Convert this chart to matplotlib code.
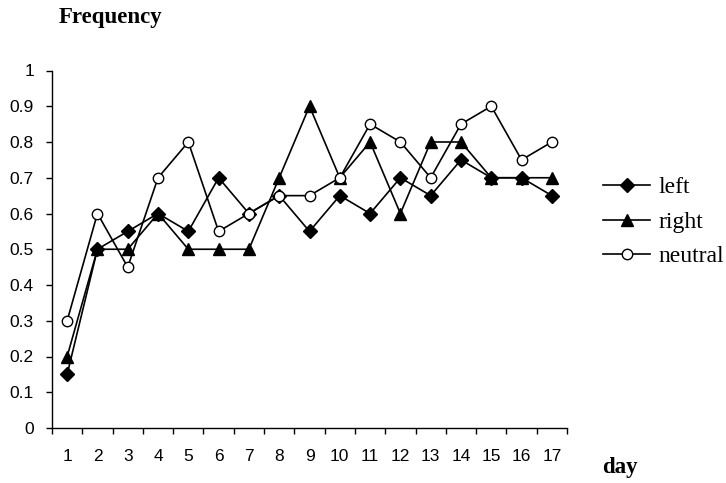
import matplotlib
matplotlib.use("Agg")
import matplotlib.pyplot as plt
import numpy as np

days = list(range(1, 18))
left = [0.15, 0.5, 0.55, 0.6, 0.55, 0.7, 0.6, 0.65, 0.55, 0.65, 0.6, 0.7, 0.65, 0.75, 0.7, 0.7, 0.65]
right = [0.2, 0.5, 0.5, 0.6, 0.5, 0.5, 0.5, 0.7, 0.9, 0.7, 0.8, 0.6, 0.8, 0.8, 0.7, 0.7, 0.7]
neutral = [0.3, 0.6, 0.45, 0.7, 0.8, 0.55, 0.6, 0.65, 0.65, 0.7, 0.85, 0.8, 0.7, 0.85, 0.9, 0.75, 0.8]
yticks = [0, 0.1, 0.2, 0.3, 0.4, 0.5, 0.6, 0.7, 0.8, 0.9, 1]
ytick_labels = ["0", "0.1", "0.2", "0.3", "0.4", "0.5", "0.6", "0.7", "0.8", "0.9", "1"]

W, H = 726, 483
fig = plt.figure(figsize=(W / 100, H / 100), dpi=100)
ax = fig.add_axes([52 / W, 1 - 428 / H, (567 - 52) / W, (428 - 70.5) / H])

lw = 1.2
h1, = ax.plot(days, left, color="black", lw=lw, marker="D", ms=7, mfc="black", mec="black", label="left")
h2, = ax.plot(days, right, color="black", lw=lw, marker="^", ms=8.5, mfc="black", mec="black", label="right")
h3, = ax.plot(days, neutral, color="black", lw=lw, marker="o", ms=7.5, mfc="white", mec="black", mew=1.0, label="neutral")

ax.set_xlim(0.5, 17.5)
ax.set_ylim(0, 1)
ax.set_yticks(yticks)
ax.set_yticklabels(ytick_labels, fontfamily="Liberation Sans", fontsize=12.5)
ax.set_xticks(days)
ax.set_xticklabels([str(d) for d in days], fontfamily="Liberation Sans", fontsize=12.5)
ax.set_xticks(np.arange(0.5, 18.0, 1.0), minor=True)
ax.tick_params(axis="x", which="major", length=0, pad=15)
ax.tick_params(axis="x", which="minor", length=4, direction="out", width=1)
ax.tick_params(axis="y", length=4, direction="out", width=1, pad=9)

for s in ["top", "right"]:
    ax.spines[s].set_visible(False)
for s in ["left", "bottom"]:
    ax.spines[s].set_linewidth(1.0)

fig.text(59 / W, 1 - 18 / H, "Frequency", fontfamily="Liberation Serif", fontweight="bold",
         fontsize=16.5, ha="left", va="center")
fig.text(602 / W, 1 - 468 / H, "day", fontfamily="Liberation Serif", fontweight="bold",
         fontsize=16.5, ha="left", va="center")

leg = fig.legend(handles=[h1, h2, h3], loc="center left", bbox_to_anchor=(603 / W, 1 - 222 / H),
                 frameon=False, prop={"family": "Liberation Serif", "size": 17},
                 handlelength=2.0, handletextpad=0.33, labelspacing=0.55, borderpad=0,
                 borderaxespad=0)

fig.savefig("out.png", dpi=100)
